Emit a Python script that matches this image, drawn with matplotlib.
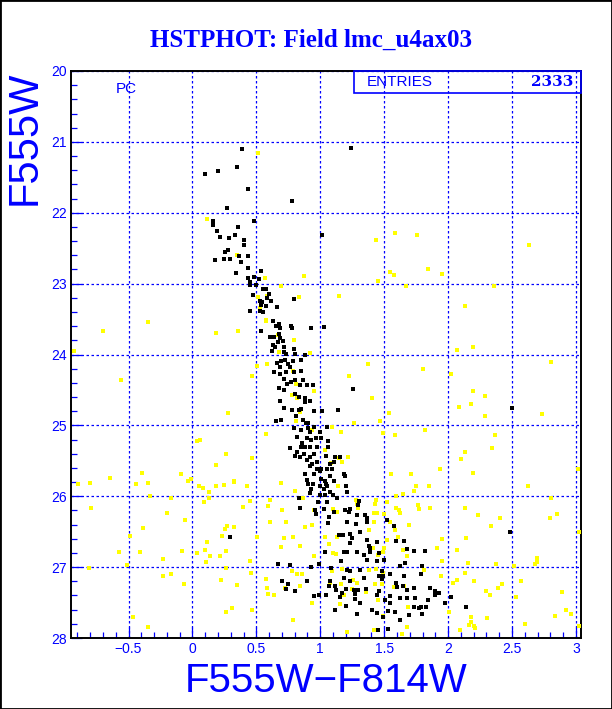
import matplotlib
matplotlib.use("Agg")
import matplotlib.pyplot as plt
from matplotlib.patches import Rectangle
from matplotlib.ticker import MultipleLocator, FixedLocator

# ---------------- data ----------------
black_color = [0.387,0.348,0.201,0.099,0.434,0.781,0.272,0.162,0.481,0.160,0.358,0.191,0.332,0.215,0.285,0.405,0.405,0.277,0.254,0.363,
 0.434,0.178,0.248,0.295,0.379,0.434,0.538,0.340,0.483,0.434,0.452,0.520,0.452,0.499,1.016,0.554,0.577,0.601,0.475,0.585,
 0.530,0.614,0.548,0.796,0.538,0.577,0.661,0.452,0.530,0.551,0.634,0.677,0.655,0.771,0.781,0.930,1.029,0.687,0.538,0.608,
 0.642,0.681,0.687,0.708,0.669,0.630,0.648,0.713,0.791,0.624,0.713,0.734,0.804,0.883,0.726,0.692,0.786,0.849,0.661,0.687,
 0.744,0.765,0.640,0.687,0.734,0.791,0.851,0.713,0.773,0.739,0.804,0.865,0.843,0.896,0.943,0.681,0.713,0.804,0.830,0.883,
 0.922,0.687,0.883,1.256,0.718,0.781,0.830,0.851,0.953,1.013,1.139,0.655,0.695,0.812,0.865,0.888,0.901,0.791,0.849,0.901,
 0.955,1.052,0.922,1.000,0.818,0.896,0.927,0.969,1.005,0.857,0.883,0.849,0.916,0.974,0.765,1.060,1.060,0.822,0.875,0.948,
 1.047,1.117,1.151,0.799,0.843,0.922,0.896,0.935,0.974,1.073,1.110,0.922,0.974,1.005,1.052,1.092,0.883,0.948,1.000,1.073,
 1.188,1.196,0.896,1.005,1.039,1.104,0.906,0.943,1.047,1.000,1.052,1.204,0.927,1.026,1.078,1.209,0.922,1.000,1.039,1.099,
 0.830,0.979,1.052,1.131,1.300,1.295,0.838,0.961,1.031,1.104,1.196,1.222,1.235,0.966,1.065,1.287,1.352,1.366,
 1.060,1.209,1.282,1.366,1.522,1.580,1.149,1.178,1.235,1.313,1.235,1.248,1.366,1.444,1.590,1.652,1.384,1.392,1.039,1.182,
 1.209,1.287,1.339,1.392,1.457,1.679,1.731,1.822,1.162,1.366,1.444,1.496,1.621,1.660,1.796,0.765,0.666,0.930,0.987,1.086,
 1.209,1.235,1.308,1.483,1.491,1.543,1.652,1.182,1.339,1.462,1.235,1.073,1.117,1.483,1.595,1.648,0.702,0.744,0.896,1.065,
 1.125,1.170,1.204,1.261,1.295,1.360,1.457,1.601,1.679,1.736,1.856,1.895,1.926,0.734,0.804,0.948,0.987,1.047,1.157,1.274,
 1.444,1.548,1.626,1.679,1.744,1.901,2.024,1.313,1.274,1.405,1.509,1.548,1.731,1.770,1.789,1.979,2.143,1.117,1.201,1.444,
 1.527,1.587,1.691,1.796,1.287,1.491,1.527,1.626,1.454,2.488,1.789,1.846,1.828,2.501,0.295,1.243]
black_mag = [21.10,21.35,21.41,21.45,21.67,21.84,21.94,22.11,22.12,22.17,22.20,22.26,22.31,22.34,22.36,22.39,22.46,22.53,22.56,22.61,
 22.61,22.67,22.65,22.65,22.70,22.78,22.82,22.85,22.91,22.92,22.98,22.94,23.02,23.02,22.31,23.07,23.07,23.15,23.16,23.20,
 23.25,23.25,23.26,23.21,23.30,23.32,23.33,23.38,23.38,23.40,23.53,23.57,23.60,23.60,23.62,23.63,23.61,23.62,23.67,23.76,
 23.75,23.71,23.77,23.81,23.82,23.86,23.90,23.89,23.92,23.95,23.97,23.99,23.99,24.01,24.08,24.09,24.09,24.08,24.12,24.17,
 24.14,24.17,24.25,24.27,24.25,24.25,24.23,24.34,24.39,24.41,24.36,24.36,24.43,24.43,24.43,24.47,24.50,24.56,24.60,24.62,
 24.66,24.65,24.67,24.48,24.75,24.78,24.79,24.77,24.80,24.80,24.78,24.94,24.93,24.87,24.93,24.96,24.97,25.04,25.07,25.04,
 25.02,25.02,25.10,25.09,25.16,25.18,25.21,25.18,25.18,25.25,25.30,25.30,25.30,25.30,25.32,25.22,25.30,25.37,25.40,25.40,
 25.43,25.44,25.45,25.43,25.44,25.44,25.49,25.54,25.51,25.54,25.52,25.58,25.62,25.61,25.61,25.61,25.68,25.68,25.65,25.72,
 25.69,25.72,25.77,25.76,25.79,25.79,25.83,25.83,25.83,25.86,25.85,25.85,25.90,25.90,25.94,25.94,25.96,25.98,25.98,25.98,
 26.03,26.08,26.08,26.03,26.06,26.13,26.16,26.19,26.18,26.22,26.19,26.22,26.18,26.25,26.29,26.26,26.26,26.30,
 26.38,26.37,26.39,26.36,26.33,26.42,26.54,26.54,26.53,26.50,26.66,26.59,26.62,26.65,26.63,26.63,26.70,26.73,26.78,26.78,
 26.79,26.78,26.83,26.78,26.80,26.75,26.77,26.77,26.92,26.90,26.92,26.90,26.98,26.94,26.99,26.97,26.95,27.00,26.95,27.01,
 27.04,27.05,27.04,27.06,27.12,27.10,27.12,27.16,27.15,27.13,27.20,27.20,27.26,27.17,27.23,27.26,27.20,27.24,27.20,27.27,
 27.32,27.36,27.31,27.32,27.32,27.31,27.34,27.28,27.32,27.30,27.30,27.34,27.36,27.31,27.33,27.41,27.40,27.39,27.42,27.38,
 27.40,27.41,27.44,27.44,27.44,27.39,27.42,27.51,27.45,27.60,27.47,27.51,27.56,27.58,27.56,27.50,27.56,27.61,27.55,27.65,
 27.62,27.64,27.67,27.66,27.66,27.70,27.88,27.74,27.89,26.50,27.10,27.46,27.56,24.76,26.58,21.09]

yellow_color = [0.512,0.113,0.348,0.567,0.875,0.692,0.512,0.583,0.833,1.146,0.530,0.575,0.356,0.673,0.791,0.577,0.504,0.583,0.804,0.922,
 0.681,0.783,0.849,0.465,1.222,1.374,1.801,0.812,0.955,0.781,0.818,1.405,0.843,1.538,0.812,1.266,1.470,0.577,0.935,1.092,
 1.162,1.822,1.491,1.587,1.041,1.217,1.143,1.086,1.172,0.465,1.554,1.710,0.327,0.426,0.692,1.139,1.752,1.848,1.736,1.648,
 0.804,0.452,0.608,0.865,1.439,1.522,1.595,1.431,0.395,0.595,0.700,0.953,1.292,1.595,1.616,1.626,1.765,1.775,1.444,1.099,
 -0.702,0.183,-0.926,-0.561,0.277,0.034,0.060,0.262,0.186,-0.644,-0.396,-0.091,-0.036,-0.010,-0.897,-0.801,-0.441,-0.349,0.050,0.081,
 0.183,0.248,0.327,0.128,-0.331,-0.169,0.092,0.128,-0.793,-0.200,-0.060,0.269,0.254,0.327,-0.388,0.233,-0.488,0.113,-0.576,-0.412,
 -0.081,0.097,0.034,0.139,0.217,0.264,-0.232,0.107,-0.811,-0.514,0.264,-0.232,-0.169,-0.065,0.225,0.348,0.311,0.264,-0.467,-0.349,
 -0.349,1.439,1.585,1.757,2.634,1.840,1.548,1.574,1.955,1.454,1.668,2.363,2.133,
 2.196,2.070,2.807,2.026,2.196,2.290,2.180,2.086,2.290,2.738,2.368,2.347,2.136,2.102,1.940,2.196,3.020,2.629,2.807,1.861,
 2.133,2.237,2.410,2.337,2.854,2.796,3.026,1.955,2.143,1.914,2.070,2.159,2.378,1.950,2.519,2.697,2.697,2.681,2.136,1.945,
 2.070,2.200,2.423,2.572,2.039,1.901,2.300,2.331,2.388,2.529,2.895,2.008,2.180,2.838,2.926,2.958,2.305,2.180,2.167,2.206,
 2.214,2.598,3.026,2.096,
 1.593,1.282,1.131,1.287,1.423,0.603,0.734,0.937,0.883,1.417,1.496,1.548,1.582,1.691,0.783,0.509,0.713,1.039,1.131,1.384,
 1.522,1.611,0.843,0.692,0.955,1.099,1.125,1.065,1.413,1.449,1.491,1.496,1.648,1.679,1.820,0.452,0.778,0.818,0.857,1.092,
 1.170,1.384,1.433,1.491,1.809,0.577,0.460,1.078,1.162,1.256,1.287,1.431,1.483,1.658,0.583,0.726,0.838,1.248,1.182,1.360,
 1.580,0.595,0.640,0.935,1.157,1.449,1.687,0.465,0.786,1.491,1.209,1.417,1.642,1.679]
yellow_mag = [21.15,22.09,22.59,22.92,22.89,23.03,23.19,23.17,23.19,23.17,23.35,23.52,23.67,23.73,23.80,23.53,24.16,24.14,23.99,23.98,
 23.96,24.23,24.23,24.31,24.31,24.14,24.20,24.42,24.51,24.57,24.62,24.61,24.81,24.82,24.94,24.96,24.94,25.12,25.07,25.02,
 25.09,25.06,25.11,25.14,25.35,25.44,25.46,25.53,25.52,25.46,25.68,25.68,25.79,25.86,25.81,25.85,25.85,25.85,25.93,25.97,
 25.92,26.06,26.05,26.03,26.05,26.08,26.00,26.11,26.15,26.14,26.20,26.19,26.16,26.17,26.19,26.23,26.13,26.18,26.23,26.18,
 23.67,23.70,23.95,24.36,24.82,25.22,25.21,25.41,25.56,25.74,25.67,25.69,25.78,25.76,25.83,25.81,25.83,25.81,25.85,25.88,
 25.86,25.84,25.80,25.94,25.99,26.02,26.08,26.03,26.17,26.24,26.33,26.42,26.46,26.43,26.45,26.56,26.56,26.65,26.79,26.78,
 26.77,26.76,26.80,26.84,26.85,26.77,26.88,26.93,27.01,26.97,27.01,27.12,27.10,27.24,27.18,27.25,27.57,27.63,27.70,27.84,
 23.54,22.38,22.29,22.31,22.46,22.79,22.84,22.88,22.86,22.97,23.03,23.03,23.31,
 23.89,23.94,24.11,24.28,24.51,24.59,24.70,24.74,24.87,24.84,25.14,25.32,25.38,25.47,25.62,25.67,25.61,25.86,26.03,26.17,
 26.17,26.27,26.31,26.42,26.25,26.31,26.51,26.60,26.59,26.73,26.76,26.94,26.96,26.92,26.98,26.87,26.93,26.95,27.08,27.13,
 27.18,27.19,27.24,27.19,27.23,27.40,27.33,27.39,27.29,27.42,27.35,27.64,27.70,27.69,27.60,27.66,27.72,27.78,27.81,27.83,
 27.86,27.80,27.83,27.89,
 25.99,26.05,26.22,26.11,26.24,26.36,26.37,26.40,26.43,26.36,26.25,26.36,26.47,26.40,26.58,26.58,26.59,26.57,26.58,26.47,
 26.62,26.58,26.70,26.72,26.84,26.80,26.81,26.68,26.73,26.83,26.79,26.73,26.76,26.85,26.77,26.92,27.06,27.09,27.10,27.06,
 27.03,27.04,27.02,27.08,27.04,27.17,27.08,27.23,27.24,27.18,27.23,27.24,27.24,27.26,27.29,27.30,27.26,27.31,27.40,27.35,
 27.28,27.38,27.40,27.50,27.52,27.47,27.56,27.61,27.75,27.69,27.92,27.89,27.95,27.85]

x_ticks = [-0.5, 0, 0.5, 1, 1.5, 2, 2.5, 3]
x_tick_labels = ["\u22120.5", "0", "0.5", "1", "1.5", "2", "2.5", "3"]
y_ticks = [20, 21, 22, 23, 24, 25, 26, 27, 28]
y_tick_labels = ["20", "21", "22", "23", "24", "25", "26", "27", "28"]

title = "HSTPHOT: Field lmc_u4ax03"
xlabel = "F555W\u2212F814W"
ylabel = "F555W"
entries = "2333"

BLUE = "#0000ff"
YELLOW = "#ffff00"

# ---------------- figure ----------------
W, H = 612, 709
fig = plt.figure(figsize=(W/100, H/100), dpi=100)
fig.patch.set_facecolor("white")
ax = fig.add_axes([71/W, 1-638/H, (581-71)/W, (638-71)/H])
ax.set_xlim(-0.95, 3.04)
ax.set_ylim(28, 20)

ax.scatter(yellow_color, yellow_mag, s=7, marker='s', c=YELLOW, linewidths=0, zorder=3)
ax.scatter(black_color, black_mag, s=7, marker='s', c='black', linewidths=0, zorder=4)

ax.set_axisbelow(True)
ax.xaxis.set_major_locator(FixedLocator(x_ticks))
ax.yaxis.set_major_locator(FixedLocator(y_ticks))
ax.xaxis.set_minor_locator(MultipleLocator(0.1))
ax.yaxis.set_minor_locator(MultipleLocator(0.2))
ax.set_xticklabels(x_tick_labels)
ax.set_yticklabels(y_tick_labels)
ax.grid(True, which='major', color=BLUE, linestyle=(0, (2, 2)), linewidth=0.9)
ax.tick_params(which='both', direction='in', color=BLUE, labelcolor=BLUE,
               top=False, right=False, width=0.9)
ax.tick_params(which='major', length=8, labelsize=10, pad=3)
ax.tick_params(which='minor', length=4.5)
for lab in ax.get_xticklabels() + ax.get_yticklabels():
    lab.set_family("Liberation Sans")
for sp in ax.spines.values():
    sp.set_color("black")
    sp.set_linewidth(1.4)

# PC label
ax.text(0.109, 0.969, "PC", transform=ax.transAxes, color=BLUE, fontsize=11,
        family="Liberation Sans", ha='center', va='center')

# stats box
bx0 = (354-71)/(581-71)
by0 = 1 - (93.3-71)/(638-71)
ax.add_patch(Rectangle((bx0, by0), 1-bx0, 1-by0, transform=ax.transAxes,
                       fill=False, edgecolor=BLUE, linewidth=1.2, zorder=6, clip_on=False))
ax.text((400-71)/510, (1+by0)/2, "ENTRIES", transform=ax.transAxes, color=BLUE,
        fontsize=11, family="Liberation Sans", ha='center', va='center', zorder=7)
ax.text((573-71)/510, (1+by0)/2, entries, transform=ax.transAxes, color=BLUE,
        fontsize=11, family="DejaVu Serif", fontweight='bold', ha='right', va='center', zorder=7)

# titles / labels
fig.text(311/W, 1-40/H, title, color=BLUE, fontsize=18, fontweight='bold',
         family="Liberation Serif", ha='center', va='center')
fig.text(326/W, 1-681/H, xlabel, color=BLUE, fontsize=29,
         family="Liberation Sans", ha='center', va='center')
fig.text(25/W, 1-138/H, ylabel, color=BLUE, fontsize=30, rotation=90,
         family="Liberation Sans", ha='center', va='center')

fig.add_artist(Rectangle((0, 0), 1, 1, transform=fig.transFigure, fill=False,
                         edgecolor='black', linewidth=2))

fig.savefig("out.png", dpi=100, facecolor="white")
